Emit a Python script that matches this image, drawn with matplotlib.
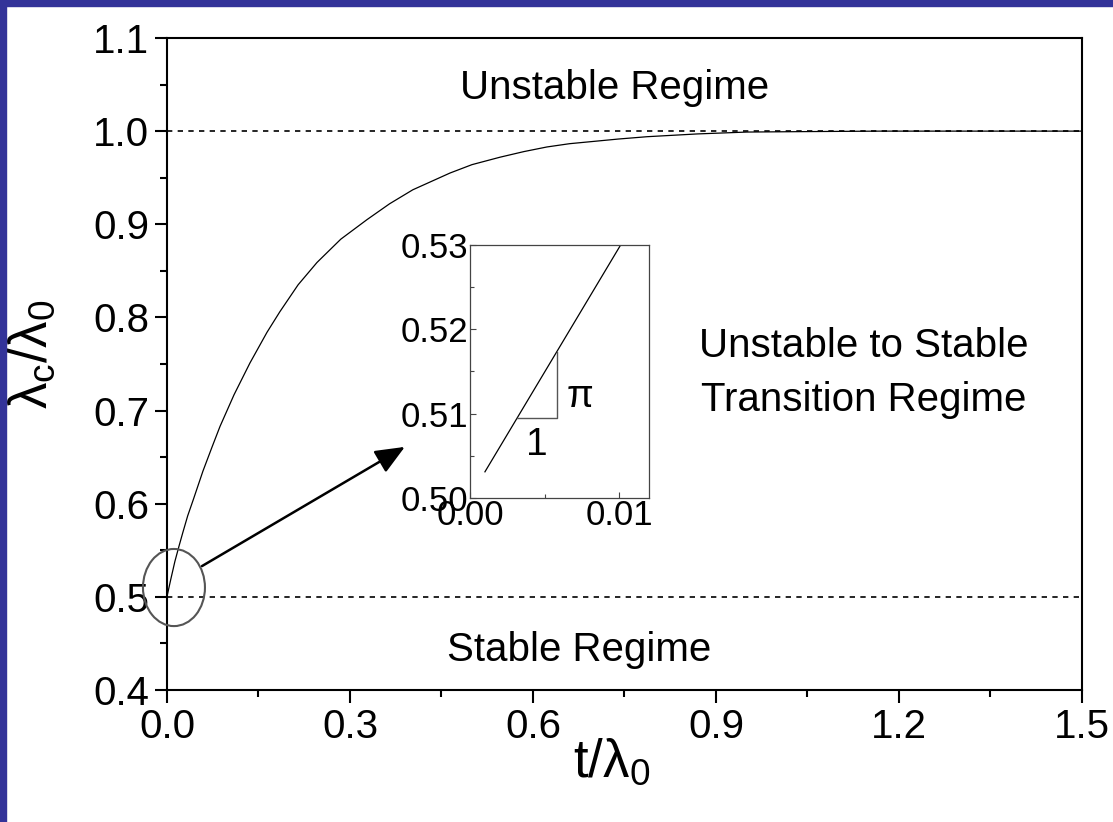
import matplotlib
matplotlib.use("Agg")
import matplotlib.pyplot as plt
from matplotlib.patches import Ellipse, Rectangle
from matplotlib.ticker import MultipleLocator, FixedLocator

plt.rcParams['font.family'] = ['Liberation Sans', 'DejaVu Sans']
plt.rcParams['mathtext.fontset'] = 'custom'
plt.rcParams['mathtext.rm'] = 'Liberation Sans'
plt.rcParams['mathtext.it'] = 'Liberation Sans'

# critical wavelength vs. film thickness
t_vals = [0.0, 0.006, 0.013, 0.020, 0.026, 0.034, 0.043, 0.059, 0.074, 0.087,
          0.110, 0.136, 0.164, 0.185, 0.215, 0.246, 0.285, 0.328, 0.365, 0.403,
          0.464, 0.500, 0.546, 0.585, 0.623, 0.660, 0.700, 0.740, 0.787, 0.870,
          0.951, 1.05, 1.17, 1.30, 1.5]
lam_vals = [0.500, 0.518, 0.538, 0.555, 0.569, 0.587, 0.604, 0.635, 0.661, 0.683,
            0.717, 0.751, 0.784, 0.806, 0.835, 0.859, 0.884, 0.905, 0.922, 0.937,
            0.955, 0.964, 0.972, 0.978, 0.983, 0.9865, 0.989, 0.9915, 0.994, 0.997,
            0.999, 0.9995, 1.0, 1.0, 1.0]

# zoomed-in initial slope
t_inset = [0.001, 0.0101]
lam_inset = [0.5031, 0.5300]
tri_x = [0.00313, 0.0058, 0.0058]
tri_y = [0.5095, 0.5095, 0.5173]

stable_level = 0.5
unstable_level = 1.0

fig = plt.figure(figsize=(11.13, 8.22), dpi=100)
fig.patch.set_facecolor('white')
blue = '#333399'
fig.patches.append(Rectangle((0, 1 - 6 / 822), 1, 6 / 822, transform=fig.transFigure,
                             color=blue, zorder=0))
fig.patches.append(Rectangle((0, 0), 6 / 1113, 1, transform=fig.transFigure,
                             color=blue, zorder=0))

ax = fig.add_axes([0.150, 0.1606, 0.8221, 0.7932])
ax.plot(t_vals, lam_vals, color='black', lw=0.9)
ax.plot([0, 1.5], [unstable_level] * 2, color='black', lw=1.2, linestyle=(0, (3.2, 3.2)))
ax.plot([0, 1.5], [stable_level] * 2, color='black', lw=1.2, linestyle=(0, (3.2, 3.2)))

ax.set_xlim(0, 1.5)
ax.set_ylim(0.4, 1.1)
ax.xaxis.set_major_locator(MultipleLocator(0.3))
ax.xaxis.set_minor_locator(MultipleLocator(0.15))
ax.yaxis.set_major_locator(MultipleLocator(0.1))
ax.yaxis.set_minor_locator(MultipleLocator(0.05))
ax.xaxis.set_major_formatter(lambda v, p: f'{v:.1f}')
ax.yaxis.set_major_formatter(lambda v, p: f'{v:.1f}')
ax.tick_params(which='major', direction='out', length=9, width=1.5, labelsize=29, pad=4)
ax.tick_params(which='minor', direction='out', length=5, width=1.5)
for s in ax.spines.values():
    s.set_linewidth(1.5)

ax.set_xlabel(r't/λ$_\mathrm{0}$', fontsize=38)
ax.xaxis.set_label_coords(0.486, -0.072)
ax.set_ylabel(r'λ$_\mathrm{c}$/λ$_\mathrm{0}$', fontsize=38)
ax.yaxis.set_label_coords(-0.119, 0.515)

ax.text(0.734, 1.034, 'Unstable Regime', fontsize=29, ha='center', va='baseline')
ax.text(0.675, 0.431, 'Stable Regime', fontsize=29, ha='center', va='baseline')
ax.text(1.143, 0.757, 'Unstable to Stable', fontsize=29, ha='center', va='baseline')
ax.text(1.143, 0.699, 'Transition Regime', fontsize=29, ha='center', va='baseline')

ax.add_patch(Ellipse((0.0115, 0.510), 0.1016, 0.0828, fill=False, edgecolor='#555555',
                     lw=1.5, clip_on=False, zorder=5))
ax.annotate('', xy=(0.390, 0.661), xytext=(0.0574, 0.533),
            arrowprops=dict(arrowstyle='-|>,head_length=0.9,head_width=0.38',
                            mutation_scale=20, lw=1.8, color='black',
                            shrinkA=0, shrinkB=0))

# inset
ins = fig.add_axes([0.4223, 0.3942, 0.1608, 0.3078])
ins.plot(t_inset, lam_inset, color='black', lw=0.9)
ins.plot(tri_x, tri_y, color='#555555', lw=1.0)
ins.text(0.0065, 0.5108, 'π', fontsize=28, ha='left', va='baseline')
ins.text(0.00447, 0.5051, '1', fontsize=28, ha='center', va='baseline')
ins.set_xlim(0, 0.012)
ins.set_ylim(0.50, 0.53)
ins.xaxis.set_major_locator(FixedLocator([0.0, 0.01]))
ins.xaxis.set_minor_locator(FixedLocator([0.005]))
ins.yaxis.set_major_locator(MultipleLocator(0.01))
ins.yaxis.set_minor_locator(MultipleLocator(0.005))
ins.xaxis.set_major_formatter(lambda v, p: f'{v:.2f}')
ins.yaxis.set_major_formatter(lambda v, p: f'{v:.2f}')
ins.tick_params(which='major', direction='in', length=4, width=0.8, labelsize=25, pad=1,
                color='#444444')
ins.tick_params(which='minor', direction='in', length=3, width=0.8, color='#444444')
for s in ins.spines.values():
    s.set_linewidth(0.9)
    s.set_color('#444444')

fig.savefig('out.png', dpi=100)
